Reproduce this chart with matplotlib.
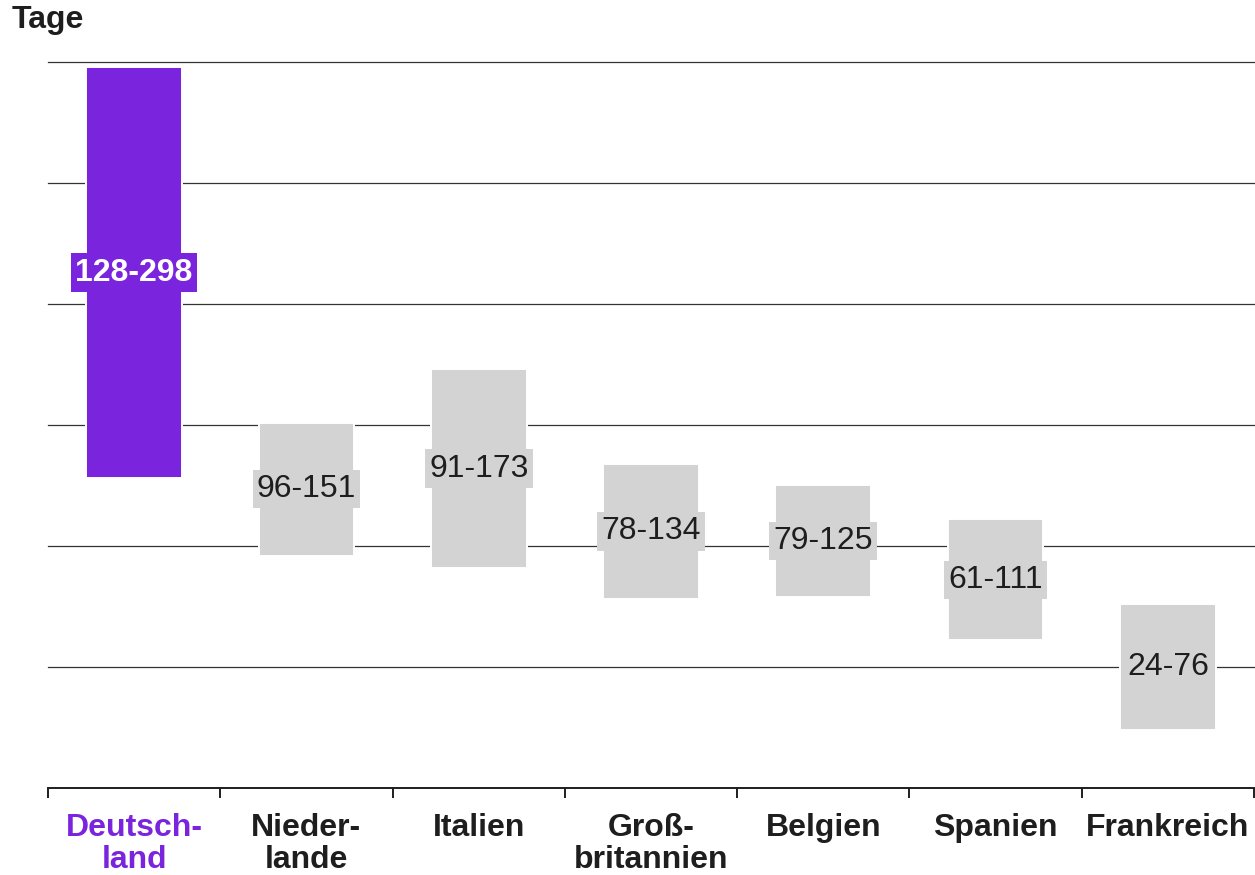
import matplotlib.pyplot as plt
import numpy as np

plt.rcParams['font.family'] = ['Liberation Sans', 'DejaVu Sans']

# Daten
laender = ['Deutsch-\nland', 'Nieder-\nlande', 'Italien', 'Groß-\nbritannien',
           'Belgien', 'Spanien', 'Frankreich']
von = [128, 96, 91, 78, 79, 61, 24]
bis = [298, 151, 173, 134, 125, 111, 76]
gitter = [50, 100, 150, 200, 250, 300]

lila = '#7B24DD'
grau = '#D3D3D3'
dunkel = '#1E1E1E'

fig = plt.figure(figsize=(12.55, 8.75), dpi=100)
ax = fig.add_axes([48 / 1255, 87 / 875, 1206 / 1255, 726 / 875])

x = np.arange(len(laender))
farben = [lila] + [grau] * (len(laender) - 1)
hoehe = [b - v for v, b in zip(von, bis)]

for g in gitter:
    ax.axhline(g, color='#333333', lw=0.9, zorder=1, clip_on=False)

ax.bar(x, hoehe, bottom=von, width=0.555, color=farben,
       edgecolor='white', linewidth=1.4, zorder=2)

for i, (v, b) in enumerate(zip(von, bis)):
    mitte = (v + b) / 2
    if i == 0:
        ax.text(i, mitte, f'{v}-{b}', ha='center', va='center', fontsize=23,
                fontweight='bold', color='white', zorder=3,
                bbox=dict(facecolor=lila, edgecolor='none', pad=3))
    else:
        ax.text(i, mitte, f'{v}-{b}', ha='center', va='center', fontsize=23,
                color=dunkel, zorder=3,
                bbox=dict(facecolor=grau, edgecolor='none', pad=3))

ax.set_xlim(-0.5, len(laender) - 0.5)
ax.set_ylim(0, 300)
for s in ['top', 'right', 'left']:
    ax.spines[s].set_visible(False)
ax.spines['bottom'].set_color(dunkel)
ax.spines['bottom'].set_linewidth(1.4)
ax.set_yticks([])

ax.set_xticks(x)
ax.set_xticklabels(laender, fontsize=23, fontweight='bold', color=dunkel,
                   linespacing=1.1)
ax.get_xticklabels()[0].set_color(lila)
ax.tick_params(axis='x', which='major', length=0, pad=18)
ax.set_xticks(np.arange(len(laender) + 1) - 0.5, minor=True)
ax.tick_params(axis='x', which='minor', length=7, width=1.4, color=dunkel,
               direction='out')

fig.text(12 / 1255, 1 - 20 / 875, 'Tage', fontsize=23, fontweight='bold',
         color=dunkel, ha='left', va='center')

fig.savefig('out.png', dpi=100)
